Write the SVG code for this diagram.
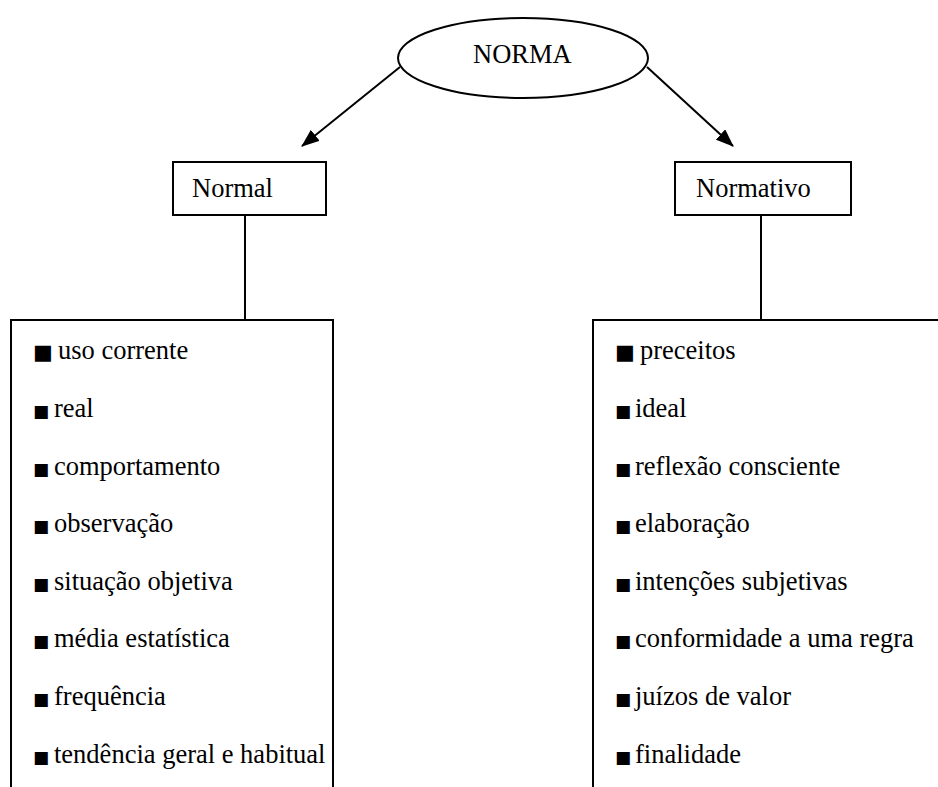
<svg xmlns="http://www.w3.org/2000/svg" width="938" height="787" viewBox="0 0 938 787">
<style>
.t{font-family:"Liberation Serif","DejaVu Serif",serif;font-size:26.5px;fill:#000}
.b{font-family:"DejaVu Sans",sans-serif;font-size:17px}
.b1{font-family:"DejaVu Sans",sans-serif;font-size:21px}
.s{fill:none;stroke:#000;stroke-width:2}
</style>
<defs>
<marker id="ah" viewBox="0 0 18 14" refX="17" refY="7" markerWidth="18" markerHeight="14" orient="auto" markerUnits="userSpaceOnUse">
<path d="M0,0L18,7L0,14z" fill="#000"/>
</marker>
</defs>
<rect width="938" height="787" fill="#fff"/>
<g id="connectors">
<line class="s" x1="400" y1="67" x2="302" y2="146" marker-end="url(#ah)"/>
<line class="s" x1="647" y1="67" x2="733" y2="146" marker-end="url(#ah)"/>
<line class="s" x1="245" y1="215" x2="245" y2="320"/>
<line class="s" x1="761" y1="215" x2="761" y2="320"/>
</g>
<g id="norma">
<ellipse class="s" cx="523" cy="58" rx="125" ry="40"/>
<text class="t" x="473" y="63">NORMA</text>
</g>
<g id="normal">
<rect class="s" x="173" y="162" width="153" height="53"/>
<text class="t" x="192" y="197">Normal</text>
</g>
<g id="normativo">
<rect class="s" x="675" y="162" width="176" height="53"/>
<text class="t" x="696" y="197">Normativo</text>
</g>
<g id="lista-normal">
<path class="s" d="M11,790V320H333V790"/>
<text class="t" x="33" y="359"><tspan class="b1">■</tspan><tspan x="58">uso corrente</tspan></text>
<text class="t" x="33" y="417"><tspan class="b">■</tspan><tspan x="54">real</tspan></text>
<text class="t" x="33" y="475"><tspan class="b">■</tspan><tspan x="54">comportamento</tspan></text>
<text class="t" x="33" y="532"><tspan class="b">■</tspan><tspan x="54">observação</tspan></text>
<text class="t" x="33" y="590"><tspan class="b">■</tspan><tspan x="54">situação objetiva</tspan></text>
<text class="t" x="33" y="647"><tspan class="b">■</tspan><tspan x="54">média estatística</tspan></text>
<text class="t" x="33" y="705"><tspan class="b">■</tspan><tspan x="54">frequência</tspan></text>
<text class="t" x="33" y="763"><tspan class="b">■</tspan><tspan x="54">tendência geral e habitual</tspan></text>
</g>
<g id="lista-normativo">
<path class="s" d="M593,790V320H940"/>
<text class="t" x="615" y="359"><tspan class="b1">■</tspan><tspan x="640">preceitos</tspan></text>
<text class="t" x="615" y="417"><tspan class="b">■</tspan><tspan x="635">ideal</tspan></text>
<text class="t" x="615" y="475"><tspan class="b">■</tspan><tspan x="635">reflexão consciente</tspan></text>
<text class="t" x="615" y="532"><tspan class="b">■</tspan><tspan x="635">elaboração</tspan></text>
<text class="t" x="615" y="590"><tspan class="b">■</tspan><tspan x="635">intenções subjetivas</tspan></text>
<text class="t" x="615" y="647"><tspan class="b">■</tspan><tspan x="635">conformidade a uma regra</tspan></text>
<text class="t" x="615" y="705"><tspan class="b">■</tspan><tspan x="635">juízos de valor</tspan></text>
<text class="t" x="615" y="763"><tspan class="b">■</tspan><tspan x="635">finalidade</tspan></text>
</g>
</svg>
